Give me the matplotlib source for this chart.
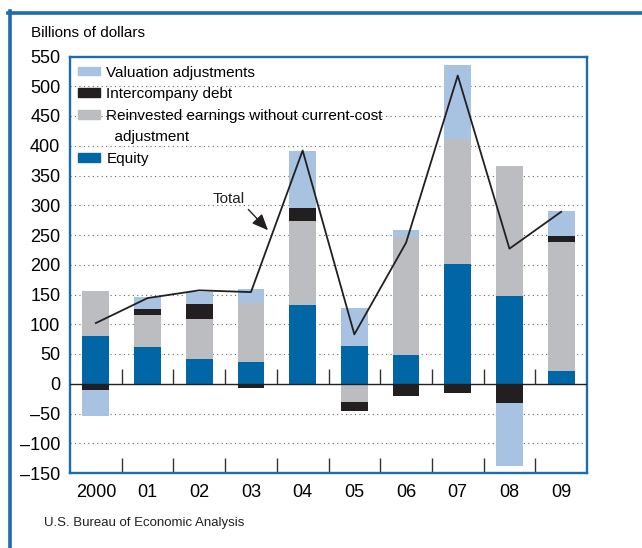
import matplotlib
matplotlib.use('Agg')
import matplotlib.pyplot as plt
from matplotlib.patches import Patch
from matplotlib.lines import Line2D
import numpy as np

plt.rcParams['font.family'] = ['Liberation Sans Narrow', 'Liberation Sans', 'DejaVu Sans']

years = ['2000', '01', '02', '03', '04', '05', '06', '07', '08', '09']
equity = [80, 61, 42, 36, 133, 63, 49, 202, 147, 21]
reinvested = [76, 54, 67, 99, 141, -30, 197, 209, 219, 218]
intercompany = [-11, 10, 25, -7, 21, -16, -21, -16, -33, 10]
valuation = [-43, 20, 21, 25, 97, 65, 13, 125, -105, 41]
total = [102, 144, 157, 154, 392, 83, 237, 518, 227, 289]

c_equity = '#0066a6'
c_reinv = '#bcbdc1'
c_inter = '#231f20'
c_val = '#a7c3e1'
c_frame = '#1b6db0'

fig = plt.figure(figsize=(6.42, 5.48), dpi=100)
ax = fig.add_axes([70 / 642, 1 - 473 / 548, 517 / 642, 416.5 / 548])

x = np.arange(len(years))
width = 0.52
pos_base = np.zeros(len(years))
neg_base = np.zeros(len(years))
for vals, col in [(equity, c_equity), (reinvested, c_reinv),
                  (intercompany, c_inter), (valuation, c_val)]:
    v = np.array(vals, dtype=float)
    base = np.where(v >= 0, pos_base, neg_base)
    ax.bar(x, v, width, bottom=base, color=col, zorder=2, linewidth=0)
    pos_base += np.where(v >= 0, v, 0)
    neg_base += np.where(v < 0, v, 0)

ax.plot(x, total, color='#231f20', lw=1.3, zorder=4)

ax.set_xlim(-0.5, 9.5)
ax.set_ylim(-150, 550)
yt = np.arange(-150, 551, 50)
ax.set_yticks(yt)
ax.set_yticklabels([str(v).replace('-', '\u2013') for v in yt], fontsize=13)
for v in yt:
    if v in (-150, 550):
        continue
    if v == 0:
        ax.axhline(0, color='#231f20', lw=1.0, zorder=3)
    else:
        ax.axhline(v, color='#666666', lw=0.8, ls=(0, (1, 3)), zorder=1)

ax.set_xticks(x)
ax.set_xticklabels(years, fontsize=13)
ax.set_xticks(x[:-1] + 0.5, minor=True)
ax.tick_params(axis='x', which='major', length=0, pad=8)
ax.tick_params(axis='x', which='minor', direction='in', length=10.5,
               width=1.0, color='#333333')
ax.tick_params(axis='y', length=0, pad=7)
ax.vlines(x[:-1] + 0.5, 0, 25, color='#333333', lw=1.0, zorder=3)

for s in ax.spines.values():
    s.set_color(c_frame)
    s.set_linewidth(1.7)

handles = [Patch(color=c_val), Patch(color=c_inter), Patch(color=c_reinv),
           Patch(color='none'), Patch(color=c_equity)]
labels = ['Valuation adjustments', 'Intercompany debt',
          'Reinvested earnings without current-cost', '  adjustment', 'Equity']
ax.legend(handles, labels, loc='upper left', bbox_to_anchor=(8 / 517, 1 - 9 / 416.5),
          frameon=False, fontsize=11, handlelength=1.45, handleheight=0.5,
          handletextpad=0.4, labelspacing=0.5, borderpad=0, borderaxespad=0)

ax.annotate('Total', xy=(3.33, 258), xytext=(2.57, 311), fontsize=11,
            ha='center', va='center', color='#231f20',
            arrowprops=dict(arrowstyle='-|>,head_length=0.7,head_width=0.3',
                            color='#231f20', lw=1.0, relpos=(1, 0),
                            shrinkA=1, shrinkB=0, mutation_scale=14))

fig.text(31 / 642, 1 - 33 / 548, 'Billions of dollars', fontsize=11, va='center')
fig.text(44 / 642, 1 - 523 / 548, 'U.S. Bureau of Economic Analysis',
         fontsize=9.5, va='center', color='#231f20')

fig.add_artist(Line2D([9.5 / 642, 9.5 / 642], [0, 1 - 11 / 548],
                      color=c_frame, lw=2.6))
fig.add_artist(Line2D([8 / 642, 1], [1 - 12.5 / 548, 1 - 12.5 / 548],
                      color=c_frame, lw=2.6))

fig.savefig('out.png', dpi=100)
